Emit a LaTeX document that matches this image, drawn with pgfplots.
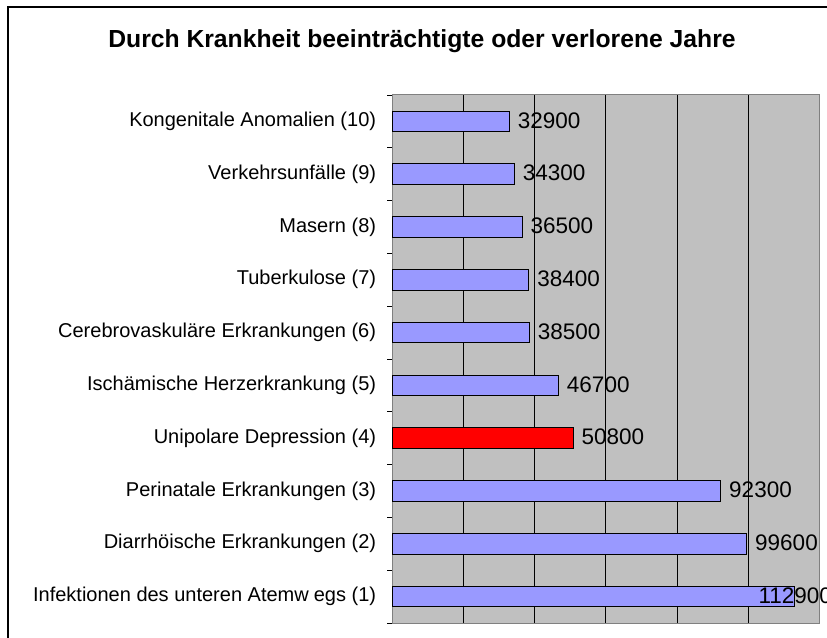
\documentclass[border=0pt]{standalone}
\usepackage{fontspec}
\setmainfont{Liberation Sans}
\usepackage{pgfplots}
\pgfplotsset{compat=1.18}
\usepackage{pgfplotstable}
\definecolor{barblue}{RGB}{153,153,255}
\definecolor{plotgrey}{RGB}{192,192,192}
\definecolor{framegrey}{RGB}{128,128,128}

\pgfplotstableread{
y v
2 99600
3 92300
5 46700
6 38500
7 38400
8 36500
9 34300
10 32900
}\bluedata
\pgfplotstableread{
y v
1 112900
}\bluelast
\pgfplotstableread{
y v
4 50800
}\reddata

\begin{document}
\begin{tikzpicture}[x=1pt,y=1pt]
\path[use as bounding box] (0,0) rectangle (827,637);
\draw[line width=1.5pt] (8,-2) -- (8,630) -- (830,630);
\node[anchor=base, inner sep=0pt, font=\fontsize{24.7}{29}\selectfont\bfseries] at (422,589.3) {Durch Krankheit beeinträchtigte oder verlorene Jahre};
\begin{axis}[
 at={(392.3pt,14pt)}, anchor=south west,
 width=427pt, height=528pt, scale only axis,
 xmin=0, xmax=120000, ymin=0.5, ymax=10.5,
 scaled x ticks=false,
 xtick={0,20000,...,100000}, xticklabels={},
 major tick length=0pt,
 xmajorgrids, grid style={black, line width=0.8pt},
 ytick={1,...,10},
 yticklabels={Infektionen des unteren Atemw\kern5pt egs (1), Diarrhöische Erkrankungen (2), Perinatale Erkrankungen (3), Unipolare Depression (4), Ischämische Herzerkrankung (5), Cerebrovaskuläre Erkrankungen (6), Tuberkulose (7), Masern (8), Verkehrsunfälle (9), Kongenitale Anomalien (10)},
 minor ytick={0.5,1.5,...,10.5},
 minor tick length=5pt, tick align=outside,
 minor y tick style={black, line width=0.8pt},
 yticklabel style={font=\fontsize{20}{24}\selectfont, inner sep=0pt, anchor=east, xshift=-16pt},
 axis line style={framegrey, line width=1pt},
 axis background/.style={fill=plotgrey},
 xbar, bar width=20.6pt, bar shift=0pt,
 clip=false,
 point meta=explicit symbolic,
 nodes near coords,
 nodes near coords style={font=\fontsize{22.5}{27}\selectfont, anchor=west, inner sep=0pt, xshift=8pt, yshift=1pt, text=black},
 tick pos=left,
]
\addplot[fill=barblue, draw=black, line width=1pt] table[x=v,y=y,meta=v]{\bluedata};
\addplot[fill=barblue, draw=black, line width=1pt, nodes near coords style={xshift=-44pt}] table[x=v,y=y,meta=v]{\bluelast};
\addplot[fill=red, draw=black, line width=1pt] table[x=v,y=y,meta=v]{\reddata};
\end{axis}
\end{tikzpicture}
\end{document}
